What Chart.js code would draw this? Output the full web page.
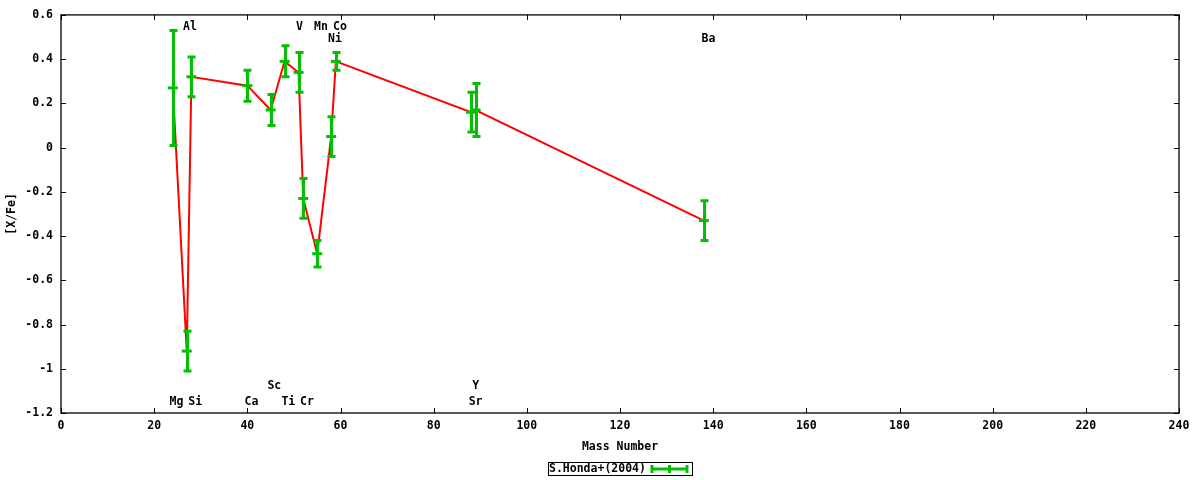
<!DOCTYPE html>
<html><head><meta charset="utf-8">
<script src="https://cdn.jsdelivr.net/npm/chart.js@4.4.1/dist/chart.umd.min.js"></script>
<style>html,body{margin:0;padding:0;background:#fff}canvas{display:block}</style>
</head><body>
<canvas id="c" width="1200" height="480"></canvas>
<script>
// ---- data ----
const elements    = ['Mg','Al','Si','Ca','Sc','Ti','V','Cr','Mn','Ni','Co','Sr','Y','Ba'];
const massNumbers = [24, 27, 28, 40, 45, 48, 51, 52, 55, 58, 59, 88, 89, 138];
const xFe         = [0.27,-0.92,0.32,0.28,0.17,0.39,0.34,-0.23,-0.48,0.05,0.39,0.16,0.17,-0.33];
const xFeErr      = [0.26,0.09,0.09,0.07,0.07,0.07,0.09,0.09,0.06,0.09,0.04,0.09,0.12,0.09];
const labelX      = [24.8,27.7,28.8,40.9,45.8,48.8,51.2,52.8,55.8,58.8,59.9,89.0,89.0,139.0];
const labelY      = [-1.15,0.545,-1.15,-1.15,-1.08,-1.15,0.545,-1.15,0.545,0.49,0.545,-1.15,-1.08,0.49];
const seriesName  = 'S.Honda+(2004)';
const xTicks      = [0,20,40,60,80,100,120,140,160,180,200,220,240];
const yTicks      = [-1.2,-1,-0.8,-0.6,-0.4,-0.2,0,0.2,0.4,0.6];
const xTitle      = 'Mass Number';
const yTitle      = '[X/Fe]';

const GREEN = '#00c000';
const RED = '#ff0000';
const FONT = {family: '"DejaVu Sans Mono", monospace', size: 11.5, weight: 'bold'};
const FONT_CSS = 'bold 11.5px "DejaVu Sans Mono", monospace';

const points = massNumbers.map((m, i) => ({x: m, y: xFe[i]}));

const gp = {
  id: 'gp',
  afterDatasetsDraw(chart) {
    const ctx = chart.ctx, xs = chart.scales.x, ys = chart.scales.y, a = chart.chartArea;
    ctx.save();
    // error bars
    ctx.strokeStyle = GREEN; ctx.lineWidth = 3; ctx.lineCap = 'butt';
    massNumbers.forEach((m, i) => {
      const px = Math.round(xs.getPixelForValue(m)) + 0.5;
      const t = ys.getPixelForValue(xFe[i] + xFeErr[i]);
      const b = ys.getPixelForValue(xFe[i] - xFeErr[i]);
      ctx.beginPath();
      ctx.moveTo(px, t); ctx.lineTo(px, b);
      ctx.moveTo(px - 4, t); ctx.lineTo(px + 4, t);
      ctx.moveTo(px - 4, b); ctx.lineTo(px + 4, b);
      ctx.stroke();
    });
    // frame
    ctx.strokeStyle = '#222'; ctx.lineWidth = 1.5;
    ctx.strokeRect(a.left, a.top, a.right - a.left, a.bottom - a.top);
    // inward ticks
    ctx.lineWidth = 1; ctx.strokeStyle = '#000';
    ctx.beginPath();
    xTicks.forEach(v => {
      const px = Math.round(xs.getPixelForValue(v)) + 0.5;
      ctx.moveTo(px, a.bottom); ctx.lineTo(px, a.bottom - 5);
      ctx.moveTo(px, a.top); ctx.lineTo(px, a.top + 5);
    });
    yTicks.forEach(v => {
      const py = Math.round(ys.getPixelForValue(v)) + 0.5;
      ctx.moveTo(a.left, py); ctx.lineTo(a.left + 5, py);
      ctx.moveTo(a.right, py); ctx.lineTo(a.right - 5, py);
    });
    ctx.stroke();
    // element labels
    ctx.font = FONT_CSS; ctx.fillStyle = '#000';
    ctx.textAlign = 'center'; ctx.textBaseline = 'middle';
    elements.forEach((el, i) => {
      ctx.fillText(el, xs.getPixelForValue(labelX[i]), ys.getPixelForValue(labelY[i]));
    });
    // legend
    const cx = (a.left + a.right) / 2;
    const boxL = Math.round(cx - 72) + 0.5, boxT = 462.5, boxW = 144, boxH = 13;
    ctx.lineWidth = 1; ctx.strokeStyle = '#000';
    ctx.strokeRect(boxL, boxT, boxW, boxH);
    ctx.textAlign = 'left';
    ctx.fillText(seriesName, boxL + 0.5, boxT + boxH / 2 + 0.5);
    const sy = boxT + boxH / 2, sx0 = boxL + 103.5, sx1 = boxL + 138.5, sxm = (sx0 + sx1) / 2;
    ctx.strokeStyle = GREEN; ctx.lineWidth = 3;
    ctx.beginPath();
    ctx.moveTo(sx0, sy); ctx.lineTo(sx1, sy);
    ctx.moveTo(sx0, sy - 4); ctx.lineTo(sx0, sy + 4);
    ctx.moveTo(sx1, sy - 4); ctx.lineTo(sx1, sy + 4);
    ctx.moveTo(sxm, sy - 4); ctx.lineTo(sxm, sy + 4);
    ctx.stroke();
    ctx.restore();
  }
};

new Chart(document.getElementById('c'), {
  type: 'scatter',
  data: {
    datasets: [
      {label: seriesName, data: points, showLine: false, pointStyle: 'line',
       pointRadius: 5, pointHoverRadius: 5, pointBorderWidth: 3, pointHoverBorderWidth: 3,
       borderColor: GREEN, backgroundColor: GREEN},
      {label: 'trend', data: points, showLine: true, borderColor: RED, borderWidth: 2,
       pointRadius: 0, pointHoverRadius: 0, tension: 0, fill: false}
    ]
  },
  options: {
    responsive: false, animation: false, devicePixelRatio: 1,
    layout: {padding: {top: 13, right: 21, bottom: 0, left: 0}},
    plugins: {legend: {display: false}, tooltip: {enabled: false}},
    events: [],
    scales: {
      x: {
        type: 'linear', position: 'bottom', min: 0, max: 240,
        afterBuildTicks: s => { s.ticks = xTicks.map(v => ({value: v})); },
        afterFit: s => { s.height = 67; },
        grid: {display: false, drawTicks: false}, border: {display: false},
        ticks: {padding: 6, color: '#000', font: FONT, maxRotation: 0, autoSkip: false,
                callback: v => String(v)},
        title: {display: true, text: xTitle, color: '#000', font: FONT, padding: {top: 0, bottom: 26}}
      },
      y: {
        type: 'linear', position: 'left', min: -1.2, max: 0.6,
        afterBuildTicks: s => { s.ticks = yTicks.map(v => ({value: v})); },
        afterFit: s => { s.width = 61; },
        grid: {display: false, drawTicks: false}, border: {display: false},
        ticks: {padding: 8, color: '#000', font: FONT, autoSkip: false,
                callback: v => String(Math.round(v * 10) / 10)},
        title: {display: true, text: yTitle, color: '#000', font: FONT, padding: {top: 5, bottom: 0}}
      }
    }
  },
  plugins: [gp]
});
</script>
</body></html>
